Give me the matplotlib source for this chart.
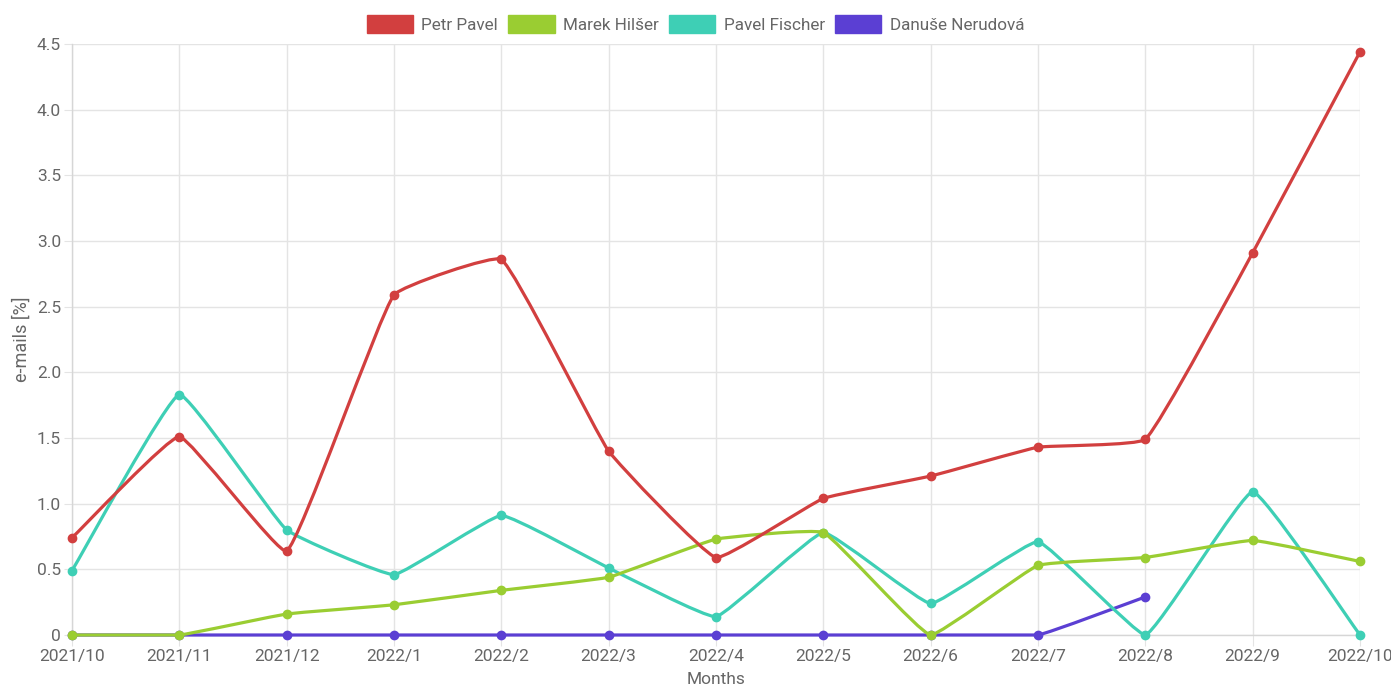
import numpy as np
import matplotlib
matplotlib.use("Agg")
import matplotlib.pyplot as plt
from matplotlib.path import Path
from matplotlib.patches import PathPatch, Patch

months = ['2021/10', '2021/11', '2021/12', '2022/1', '2022/2', '2022/3', '2022/4',
          '2022/5', '2022/6', '2022/7', '2022/8', '2022/9', '2022/10']

petr_pavel = [0.74, 1.51, 0.64, 2.59, 2.86, 1.40, 0.59, 1.04, 1.21, 1.43, 1.49, 2.91, 4.44]
marek_hilser = [0, 0, 0.16, 0.23, 0.34, 0.44, 0.73, 0.78, 0, 0.53, 0.59, 0.72, 0.56]
pavel_fischer = [0.49, 1.83, 0.80, 0.46, 0.91, 0.51, 0.14, 0.78, 0.24, 0.71, 0, 1.09, 0]
danuse_nerudova = [0, 0, 0, 0, 0, 0, 0, 0, 0, 0, 0.29, None, None]

names = ['Petr Pavel', 'Marek Hilšer', 'Pavel Fischer', 'Danuše Nerudová']
colors = ['#d23f3f', '#9acd32', '#3ecfb5', '#5b3fd3']
series = [petr_pavel, marek_hilser, pavel_fischer, danuse_nerudova]

plt.rcParams['font.family'] = ['Roboto', 'DejaVu Sans']
text_color = '#666666'
grid_color = '#e4e4e4'
tension = 0.1


def spline_path(ax, xs, ys):
    # chart.js style bezier with a small tension, worked out in pixel space
    tr = ax.transData
    pts = tr.transform(np.column_stack([xs, ys]))
    lo = tr.transform([(ax.get_xlim()[0], ax.get_ylim()[0])])[0]
    hi = tr.transform([(ax.get_xlim()[1], ax.get_ylim()[1])])[0]
    n = len(pts)
    cps = []
    for i in range(n):
        cur = pts[i]
        prev = pts[i - 1] if i > 0 else cur
        nxt = pts[i + 1] if i < n - 1 else cur
        d01 = np.hypot(*(cur - prev))
        d12 = np.hypot(*(nxt - cur))
        tot = d01 + d12
        s01 = d01 / tot if tot else 0
        s12 = d12 / tot if tot else 0
        cp_prev = np.clip(cur - tension * s01 * (nxt - prev), lo, hi)
        cp_next = np.clip(cur + tension * s12 * (nxt - prev), lo, hi)
        cps.append((cp_prev, cp_next))
    verts = [pts[0]]
    codes = [Path.MOVETO]
    for i in range(n - 1):
        verts += [cps[i][1], cps[i + 1][0], pts[i + 1]]
        codes += [Path.CURVE4] * 3
    verts = tr.inverted().transform(np.array(verts))
    return Path(verts, codes)


fig = plt.figure(figsize=(13.91, 6.90), dpi=100)
ax = fig.add_axes([72 / 1391, 1 - 635 / 690, (1360 - 72) / 1391, (635 - 44) / 690])
ax.set_xlim(0, len(months) - 1)
ax.set_ylim(0, 4.5)

x_all = np.arange(len(months))
for i, (name, vals, col) in enumerate(zip(names, series, colors)):
    xs = [x for x, v in zip(x_all, vals) if v is not None]
    ys = [v for v in vals if v is not None]
    z = 10 - 2 * i
    patch = PathPatch(spline_path(ax, xs, ys), facecolor='none', edgecolor=col,
                      linewidth=2.3, zorder=z, clip_on=False, capstyle='butt')
    ax.add_patch(patch)
    ax.plot(xs, ys, linestyle='none', marker='o', markersize=6, color=col,
            zorder=z + 1, clip_on=False)

ax.set_xticks(x_all)
ax.set_xticklabels(months)
yt = np.arange(0, 4.51, 0.5)
ax.set_yticks(yt)
ax.set_yticklabels(['0'] + ['%.1f' % v for v in yt[1:]])

ax.grid(True, color=grid_color, linewidth=1)
ax.set_axisbelow(True)
for side in ['top', 'right']:
    ax.spines[side].set_visible(False)
for side in ['left', 'bottom']:
    ax.spines[side].set_color('#d6d6d6')
    ax.spines[side].set_linewidth(1)
ax.tick_params(axis='both', colors=grid_color, labelcolor=text_color, labelsize=12.5)
ax.tick_params(axis='y', length=6, pad=2)
ax.tick_params(axis='x', length=8, pad=2)

ax.set_ylabel('e-mails [%]', color=text_color, fontsize=13, labelpad=4)
ax.set_xlabel('Months', color=text_color, fontsize=12.5, labelpad=6)

handles = [Patch(facecolor=c, edgecolor=c, linewidth=1) for c in colors]
fig.legend(handles, names, loc='center', bbox_to_anchor=(0.5, 1 - 24 / 690), ncol=4,
           frameon=False, fontsize=12.3, labelcolor=text_color, handlelength=2.7,
           handleheight=1.2, handletextpad=0.5, columnspacing=0.6)

fig.savefig('out.png', dpi=100)
